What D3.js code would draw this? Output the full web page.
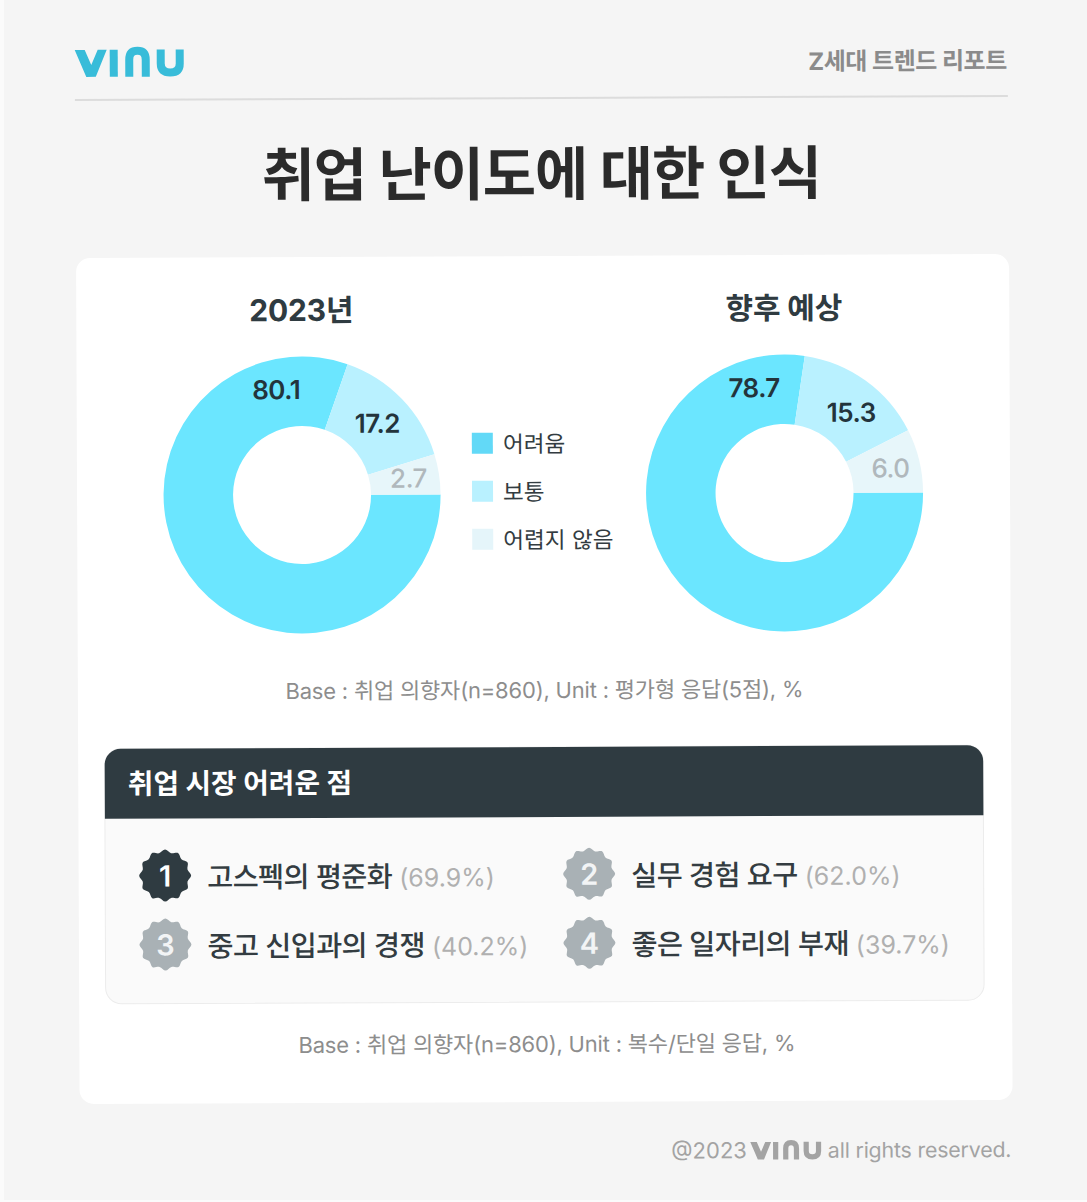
<!DOCTYPE html>
<html><head><meta charset="utf-8">
<script src="https://cdn.jsdelivr.net/npm/d3@7/dist/d3.min.js"></script>
<style>html,body{margin:0;padding:0;background:#fff;overflow:hidden}
text{font-family:Inter,"Noto Sans CJK KR",sans-serif}</style></head><body>
<svg id="c" width="1087" height="1202"></svg>
<script>
const categories=["어려움","보통","어렵지 않음"];
const chartTitles=["2023년","향후 예상"];
const labels2023=[80.1,17.2,2.7];
const labelsFuture=[78.7,15.3,6.0];
// slice sweeps as drawn in the picture (the artwork is not exactly to scale)
const drawn2023=[80.4,14.9,4.7];
const drawnFuture=[77.4,15.2,7.4];
const sliceColors=["#6be6ff","#b9f1ff","#e7f6fa"];
const legendColors=["#62d9f7","#b9f1ff","#e5f5fa"];
const labelColors=["#23343c","#23343c","#b0b8bc"];
const ranks=[1,2,3,4];
const problems=["고스펙의 평준화","실무 경험 요구","중고 신입과의 경쟁","좋은 일자리의 부재"];
const shares=["(69.9%)","(62.0%)","(40.2%)","(39.7%)"];

const svg=d3.select("#c");
const INK="#2f3b41";
svg.append("rect").attr("width",1087).attr("height",1202).attr("fill","#fbfbfb");
svg.append("rect").attr("x",4).attr("width",1083).attr("height",1200).attr("fill","#f5f5f5");
const g=svg.append("g").attr("transform","rotate(-0.24 543 600)");
function T(p,x,y,s,size,w,fill,anchor,ls){
  return p.append("text").attr("x",x).attr("y",y).text(s).attr("font-size",size).attr("font-weight",w)
    .attr("fill",fill).attr("text-anchor",anchor||"start").attr("letter-spacing",ls||0);
}
function logo(p,x,y,k,color){
  const o=p.append("g").attr("transform",`translate(${x},${y}) scale(${k})`)
    .attr("fill","none").attr("stroke",color).attr("stroke-width",8);
  o.append("path").attr("fill",color).attr("stroke","none").attr("d","M0 3H10L16.5 18L23 3H32L21 30H11.500Z");
  o.append("path").attr("d","M39 3V30");
  o.append("path").attr("d","M54.500 30V13Q54.500 4 62.750 4Q71 4 71 13V30");
  o.append("path").attr("d","M86 3V17Q86 26 95.500 26Q105 26 105 17V3");
}
// header
logo(g,77,45,1,"#38bcd9");
T(g,1009,71,"Z세대 트렌드 리포트",24,700,"#8b8b8b","end",-0.5);
g.append("line").attr("x1",77).attr("x2",1010).attr("y1",98).attr("y2",98).attr("stroke","#dcdcdc").attr("stroke-width",2);
T(g,543,195,"취업 난이도에 대한 인식",58,700,"#2b2b2b","middle",-1.2);
// card
g.append("rect").attr("x",77.500).attr("y",256).attr("width",933).attr("height",846).attr("rx",14).attr("fill","#fff");
// donuts
const pie=d3.pie().value(d=>d).sort(null).startAngle(Math.PI/2).endAngle(Math.PI*2.5);
const arc=d3.arc().innerRadius(69).outerRadius(138.5);
const labelPos=[[277,398],[378,432],[409,487]];
const labelPos2=[[755,398],[852,423],[891,479]];
function donut(cx,cy,drawn,vals,title,lp,ts){
  const d=g.append("g").attr("transform",`translate(${cx},${cy})`);
  d.selectAll("path").data(pie(drawn)).join("path").attr("d",arc).attr("fill",(_,i)=>sliceColors[i]);
  vals.forEach((v,i)=>T(g,lp[i][0],lp[i][1],v.toFixed(1),26,i==2?500:600,labelColors[i],"middle",-0.5));
  T(g,cx,cy-174,title,ts,700,INK,"middle",-0.2);
}
donut(302.5,494,drawn2023,labels2023,chartTitles[0],labelPos,30);
donut(785,494,drawnFuture,labelsFuture,chartTitles[1],labelPos2,30);
// legend
const ly=d3.scalePoint().domain(categories).range([443,539]);
categories.forEach((c,i)=>{
  g.append("rect").attr("x",472.500).attr("y",ly(c)-10.5).attr("width",21).attr("height",21).attr("fill",legendColors[i]);
  T(g,503.500,ly(c)+9,c,22.6,400,"#333c41");
});
T(g,544,698,"Base : 취업 의향자(n=860), Unit : 평가형 응답(5점), %",22,400,"#8d8d8d","middle",-0.2);
// panel
g.append("rect").attr("x",104).attr("y",747).attr("width",878.500).attr("height",255).attr("rx",16).attr("fill","#fafafa").attr("stroke","#ececec");
g.append("path").attr("fill",INK).attr("d","M104 817V763A16 16 0 0 1 120 747H966.500A16 16 0 0 1 982.500 763V817Z");
T(g,127,792,"취업 시장 어려운 점",27.8,700,"#fff");
// badges
function badge(r){const n=12,pts=[];for(let i=0;i<n*2;i++){const a=i*Math.PI/n-Math.PI/2;pts.push([Math.cos(a)*(i%2?r*.89:r),Math.sin(a)*(i%2?r*.89:r)]);}
  return d3.line().curve(d3.curveCatmullRomClosed)(pts);}
const bx=[164,588],by=[874,943];
ranks.forEach((rank,i)=>{
  const x=bx[i%2],y=by[i>>1];
  g.append("path").attr("d",badge(26)).attr("transform",`translate(${x},${y})`).attr("fill",i==0?INK:"#a9b1b5");
  T(g,x,y+11,rank,29,600,i==0?"#fff":"#f2f4f5","middle");
  const t=T(g,x+42,y+12,problems[i],28.3,500,"#333c41","start",-0.6);
  t.append("tspan").text(" "+shares[i]).attr("fill","#b0b0b0").attr("font-weight",400).attr("font-size",25).attr("letter-spacing",0);
});
T(g,545,1052,"Base : 취업 의향자(n=860), Unit : 복수/단일 응답, %",22,400,"#8d8d8d","middle",-0.2);
// footer
T(g,669,1159,"@2023",22,400,"#a3a3a3");
logo(g,748,1141,0.65,"#a3a3a3");
T(g,1009,1159,"all rights reserved.",21.4,400,"#a3a3a3","end",-0.2);
</script></body></html>
